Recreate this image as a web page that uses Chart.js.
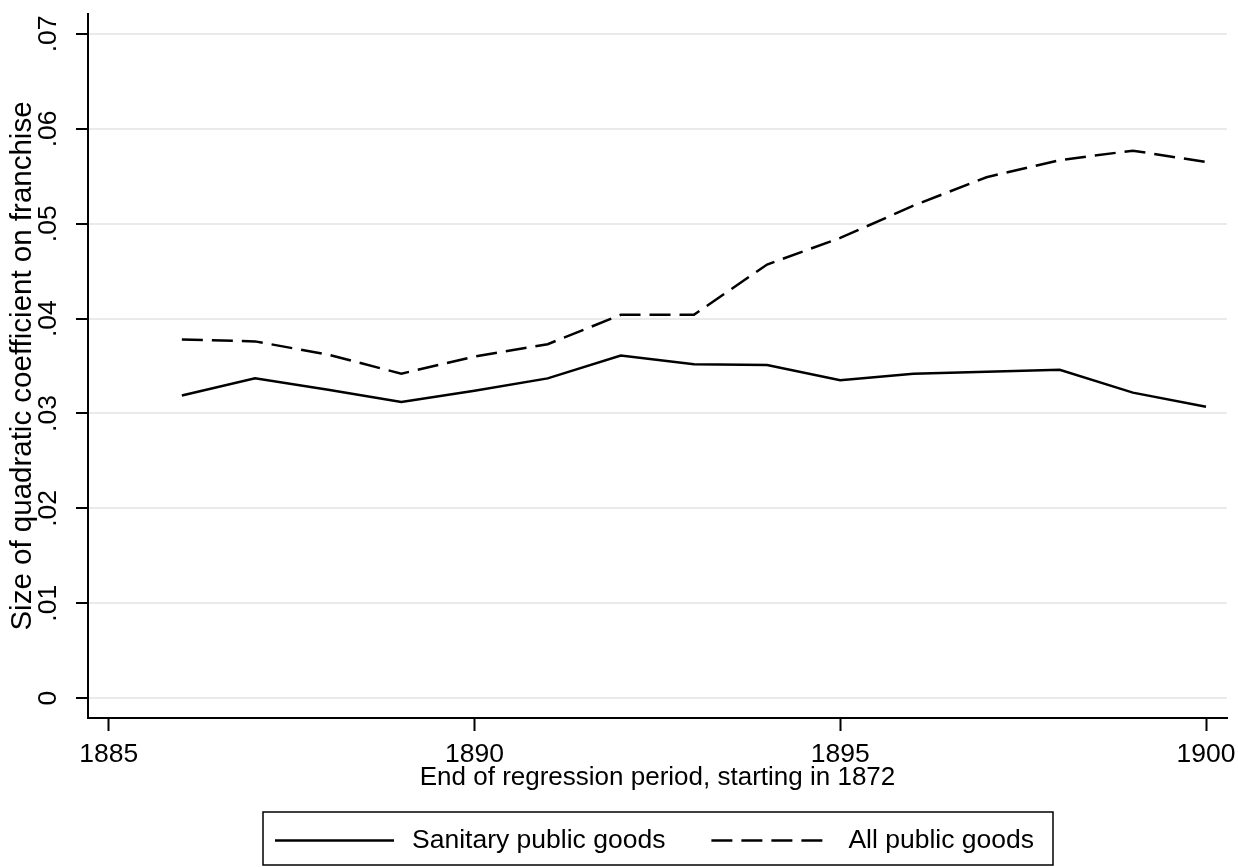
<!DOCTYPE html>
<html>
<head>
<meta charset="utf-8">
<script src="https://cdn.jsdelivr.net/npm/chart.js@4/dist/chart.umd.min.js"></script>
<style>
  html, body { margin: 0; padding: 0; background: #fff; }
  canvas { display: block; }
</style>
</head>
<body>
<canvas id="chart" width="1238" height="867"></canvas>
<script>
// End year of each regression window (all windows start in 1872)
const years = [1886, 1887, 1888, 1889, 1890, 1891, 1892, 1893, 1894, 1895, 1896, 1897, 1898, 1899, 1900];

// Size of the quadratic coefficient on franchise
const sanitaryGoods = [0.0319, 0.0337, 0.0325, 0.0312, 0.0324, 0.0337, 0.0361, 0.0352, 0.0351, 0.0335, 0.0342, 0.0344, 0.0346, 0.0322, 0.0307];
const allPublicGoods = [0.0378, 0.0376, 0.0362, 0.0342, 0.0360, 0.0373, 0.0404, 0.0404, 0.0457, 0.0485, 0.0519, 0.0549, 0.0567, 0.0577, 0.0565];

const seriesNames = ['Sanitary public goods', 'All public goods'];

const yTickValues = [0, 0.01, 0.02, 0.03, 0.04, 0.05, 0.06, 0.07];
const yTickLabels = ['0', '.01', '.02', '.03', '.04', '.05', '.06', '.07'];
const xTickValues = [1885, 1890, 1895, 1900];
const xTickLabels = ['1885', '1890', '1895', '1900'];

const FONT = '"Liberation Sans", Arial, Helvetica, sans-serif';
const TICK_SIZE = 26.5;
const XTITLE_SIZE = 26;
const YTITLE_SIZE = 29.5;
const LEGEND_SIZE = 26.5;

Chart.defaults.font.family = FONT;
Chart.defaults.color = '#000';

// Boxed legend centred under the plot region, line samples taken from the datasets
const boxedLegend = {
  id: 'boxedLegend',
  afterDraw(chart) {
    const ctx = chart.ctx;
    const area = chart.chartArea;
    const cx = (area.left + area.right) / 2;
    const sets = chart.data.datasets;
    ctx.save();
    ctx.font = LEGEND_SIZE + 'px ' + FONT;
    const sample = 119, gapText = 18, gapItem = 46, padL = 12, padR = 19;
    const widths = sets.map(d => ctx.measureText(d.label).width);
    let total = padL + padR + gapItem * (sets.length - 1);
    sets.forEach((d, i) => { total += sample + gapText + widths[i]; });
    const x0 = Math.round(cx - total / 2);
    const top = 812, h = 53;
    ctx.strokeStyle = '#000';
    ctx.lineWidth = 1.5;
    ctx.setLineDash([]);
    ctx.strokeRect(x0, top, total, h);
    const yc = top + h / 2 + 2;
    let x = x0 + padL;
    sets.forEach((d, i) => {
      ctx.beginPath();
      ctx.setLineDash(d.borderDash || []);
      ctx.lineWidth = d.borderWidth;
      ctx.strokeStyle = d.borderColor;
      ctx.moveTo(x, yc);
      ctx.lineTo(x + sample, yc);
      ctx.stroke();
      ctx.setLineDash([]);
      x += sample + gapText;
      ctx.fillStyle = '#000';
      ctx.textAlign = 'left';
      ctx.textBaseline = 'middle';
      ctx.fillText(d.label, x, yc);
      x += widths[i] + gapItem;
    });
    ctx.restore();
  }
};

new Chart(document.getElementById('chart'), {
  type: 'line',
  data: {
    datasets: [
      {
        label: seriesNames[0],
        data: years.map((yr, i) => ({ x: yr, y: sanitaryGoods[i] })),
        borderColor: '#000',
        borderWidth: 2.5,
        pointRadius: 0,
        tension: 0,
        fill: false
      },
      {
        label: seriesNames[1],
        data: years.map((yr, i) => ({ x: yr, y: allPublicGoods[i] })),
        borderColor: '#000',
        borderWidth: 2.5,
        borderDash: [21, 9],
        pointRadius: 0,
        tension: 0,
        fill: false
      }
    ]
  },
  options: {
    responsive: false,
    devicePixelRatio: 1,
    animation: false,
    layout: { padding: { left: 0, right: 11, top: 14, bottom: 74 } },
    plugins: {
      legend: { display: false },
      tooltip: { enabled: false }
    },
    scales: {
      x: {
        type: 'linear',
        min: 1884.717,
        max: 1900.287,
        afterBuildTicks: s => { s.ticks = xTickValues.map(v => ({ value: v })); },
        afterFit: s => { s.height = 75; s.paddingLeft = 0; s.paddingRight = 0; },
        ticks: {
          font: { size: TICK_SIZE },
          padding: 8,
          maxRotation: 0,
          autoSkip: false,
          callback: (v, i) => xTickLabels[i]
        },
        grid: {
          drawOnChartArea: false,
          drawTicks: true,
          tickLength: 13,
          tickColor: '#000',
          tickWidth: 2
        },
        border: { color: '#000', width: 2 },
        title: {
          display: true,
          text: 'End of regression period, starting in 1872',
          font: { size: XTITLE_SIZE },
          padding: { top: 0, bottom: 0 }
        }
      },
      y: {
        type: 'linear',
        min: -0.00209,
        max: 0.0721,
        afterBuildTicks: s => { s.ticks = yTickValues.map(v => ({ value: v })); },
        afterFit: s => { s.width = 88; s.paddingTop = 0; s.paddingBottom = 0; },
        ticks: {
          font: { size: TICK_SIZE },
          padding: 9,
          minRotation: 90,
          maxRotation: 90,
          crossAlign: 'center',
          autoSkip: false,
          callback: (v, i) => yTickLabels[i]
        },
        grid: {
          color: '#eaeaea',
          lineWidth: 2,
          drawTicks: true,
          tickLength: 12,
          tickColor: '#000',
          tickWidth: 2
        },
        border: { color: '#000', width: 2 },
        title: {
          display: true,
          text: 'Size of quadratic coefficient on franchise',
          font: { size: YTITLE_SIZE },
          padding: { top: 5, bottom: 0 }
        }
      }
    }
  },
  plugins: [boxedLegend]
});
</script>
</body>
</html>
